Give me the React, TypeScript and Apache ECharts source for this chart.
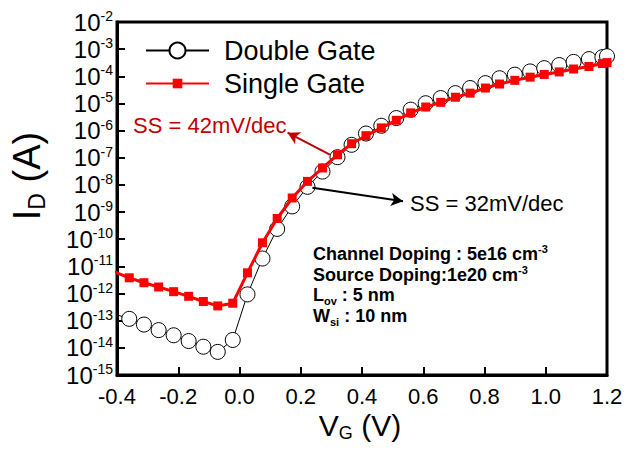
import { useEffect, useRef } from "react";
import * as echarts from "echarts";

const FONT = "'Liberation Sans', Arial, Helvetica, sans-serif";

// Gate voltage (V)
const vg = [
  -0.409, -0.36, -0.312, -0.264, -0.215, -0.166, -0.118, -0.071, -0.022, 0.026,
  0.075, 0.123, 0.172, 0.222, 0.271, 0.32, 0.366, 0.413, 0.463, 0.512,
  0.559, 0.608, 0.657, 0.705, 0.753, 0.803, 0.849, 0.899, 0.949, 0.995,
  1.044, 1.091, 1.141, 1.185, 1.2,
];

// Drain current (A), Double Gate
const idDouble = [
  1.78e-13, 1.17e-13, 7.2e-14, 4.5e-14, 2.9e-14, 1.78e-14, 1.1e-14, 7.1e-15, 1.95e-14, 9.3e-13,
  1.95e-11, 2.4e-10, 1.62e-9, 8.5e-9, 3.1e-8, 1.05e-7, 3.0e-7, 7.8e-7, 1.51e-6, 2.9e-6,
  5.9e-6, 1.02e-5, 1.58e-5, 2.4e-5, 3.7e-5, 5.6e-5, 8.5e-5, 1.15e-4, 1.51e-4, 2.0e-4,
  2.6e-4, 3.4e-4, 4.3e-4, 5.1e-4, 5.5e-4,
];

// Drain current (A), Single Gate
const idSingle = [
  6.3e-12, 3.8e-12, 2.5e-12, 1.74e-12, 1.17e-12, 7.9e-13, 5.1e-13, 3.5e-13, 4.4e-13, 5.8e-12,
  7.4e-11, 5.8e-10, 3.3e-9, 1.35e-8, 4.2e-8, 1.29e-7, 3.3e-7, 6.5e-7, 1.26e-6, 2.4e-6,
  4.5e-6, 7.4e-6, 1.1e-5, 1.7e-5, 2.4e-5, 3.7e-5, 5.2e-5, 7.1e-5, 9.3e-5, 1.17e-4,
  1.45e-4, 1.86e-4, 2.3e-4, 2.95e-4, 3.2e-4,
];

// Annotation arrows [from, to] in data coordinates
const arrow42 = [[0.295, 1.3e-7], [0.157, 8.4e-7]];
const arrow32 = [[0.238, 7.8e-9], [0.534, 2.5e-9]];

const infoLines = [
  "{b|Channel Doping : 5e16 cm}{sup|-3}",
  "{b|Source Doping:1e20 cm}{sup|-3}",
  "{b|L}{sub|ov}{b| : 5 nm}",
  "{b|W}{sub|si}{b| : 10 nm}",
];

export default function App() {
  const ref = useRef<HTMLDivElement>(null);

  useEffect(() => {
    document.body.style.margin = "0";
    const chart = echarts.init(ref.current!, null, { renderer: "svg" });

    const infoRich = {
      b: { fontSize: 18, fontWeight: "bold", color: "#000", lineHeight: 22, fontFamily: FONT },
      sup: { fontSize: 11, fontWeight: "bold", color: "#000", lineHeight: 11, verticalAlign: "top", fontFamily: FONT },
      sub: { fontSize: 11, fontWeight: "bold", color: "#000", lineHeight: 11, verticalAlign: "bottom", fontFamily: FONT },
    };

    chart.setOption({
      animation: false,
      backgroundColor: "#ffffff",
      textStyle: { fontFamily: FONT },
      grid: {
        left: 117,
        right: 19,
        top: 22,
        bottom: 91,
        show: true,
        borderColor: "#000",
        borderWidth: 3,
        backgroundColor: "transparent",
      },
      xAxis: {
        type: "value",
        min: -0.4,
        max: 1.2,
        interval: 0.2,
        axisLine: { show: true, onZero: false, lineStyle: { color: "#000", width: 3 } },
        axisTick: { show: true, inside: true, length: 8, lineStyle: { color: "#000", width: 2 } },
        axisLabel: {
          color: "#000",
          fontSize: 22,
          margin: 10,
          fontFamily: FONT,
          formatter: (v: number) => v.toFixed(1),
        },
        splitLine: { show: false },
      },
      yAxis: {
        type: "log",
        logBase: 10,
        min: 1e-15,
        max: 1e-2,
        interval: 1,
        axisLine: { show: true, onZero: false, lineStyle: { color: "#000", width: 3 } },
        axisTick: { show: true, inside: true, length: 8, lineStyle: { color: "#000", width: 2 } },
        axisLabel: {
          margin: 4,
          formatter: (v: number) => `{b|10}{s|${Math.round(Math.log10(v))}}`,
          rich: {
            b: { fontSize: 24, color: "#000", lineHeight: 26, fontFamily: FONT },
            s: { fontSize: 14, color: "#000", lineHeight: 14, verticalAlign: "top", fontFamily: FONT },
          },
        },
        splitLine: { show: false },
        minorTick: { show: false },
      },
      legend: [
        {
          data: ["Double Gate"],
          left: 145,
          top: 37,
          padding: 0,
          itemWidth: 63,
          itemHeight: 20,
          selectedMode: false,
          textStyle: { fontSize: 27, color: "#000", fontFamily: FONT, padding: [0, 0, 0, 10] },
        },
        {
          data: ["Single Gate"],
          left: 145,
          top: 70,
          padding: 0,
          itemWidth: 63,
          itemHeight: 12,
          selectedMode: false,
          textStyle: { fontSize: 27, color: "#000", fontFamily: FONT, padding: [0, 0, 0, 10] },
        },
      ],
      series: [
        {
          name: "Double Gate",
          type: "line",
          data: vg.map((x, i) => [x, idDouble[i]]),
          symbol: "circle",
          symbolSize: 15,
          showAllSymbol: true,
          itemStyle: { color: "#ffffff", borderColor: "#000", borderWidth: 1 },
          lineStyle: { color: "#000", width: 1 },
          z: 2,
          markLine: {
            silent: true,
            symbol: ["none", "arrow"],
            symbolSize: [10, 12],
            label: { show: false },
            data: [
              [
                { coord: arrow42[0], lineStyle: { color: "#c00000", width: 2, type: "solid" } },
                { coord: arrow42[1] },
              ],
              [
                { coord: arrow32[0], lineStyle: { color: "#000", width: 2, type: "solid" } },
                { coord: arrow32[1] },
              ],
            ],
          },
        },
        {
          name: "Single Gate",
          type: "line",
          data: vg.map((x, i) => [x, idSingle[i]]),
          symbol: "rect",
          symbolSize: 9,
          showAllSymbol: true,
          itemStyle: { color: "#ff0000" },
          lineStyle: { color: "#ff0000", width: 3 },
          z: 3,
        },
      ],
      graphic: [
        {
          type: "text",
          x: 133,
          y: 125,
          style: { text: "SS = 42mV/dec", fill: "#c00000", fontSize: 22, fontFamily: FONT, align: "left", verticalAlign: "middle" },
        },
        {
          type: "text",
          x: 410,
          y: 203,
          style: { text: "SS = 32mV/dec", fill: "#000", fontSize: 22, fontFamily: FONT, align: "left", verticalAlign: "middle" },
        },
        ...infoLines.map((t, i) => ({
          type: "text",
          x: 313,
          y: [254, 275, 295, 316][i],
          style: { text: t, rich: infoRich, align: "left", verticalAlign: "middle" },
        })),
        {
          type: "text",
          x: 360,
          y: 425,
          style: {
            text: "{a|V}{g|G}{a| (V)}",
            align: "center",
            verticalAlign: "middle",
            rich: {
              a: { fontSize: 30, color: "#000", lineHeight: 34, fontFamily: FONT },
              g: { fontSize: 18, color: "#000", lineHeight: 14, verticalAlign: "bottom", fontFamily: FONT },
            },
          },
        },
        {
          type: "text",
          x: 27,
          y: 176,
          rotation: Math.PI / 2,
          style: {
            text: "{a|I}{g|D}{a| (A)}",
            align: "center",
            verticalAlign: "middle",
            rich: {
              a: { fontSize: 38, color: "#000", lineHeight: 42, fontFamily: FONT },
              g: { fontSize: 23, color: "#000", lineHeight: 16, verticalAlign: "bottom", fontFamily: FONT },
            },
          },
        },
      ],
    });

    return () => chart.dispose();
  }, []);

  return <div ref={ref} style={{ width: 626, height: 466 }} />;
}
